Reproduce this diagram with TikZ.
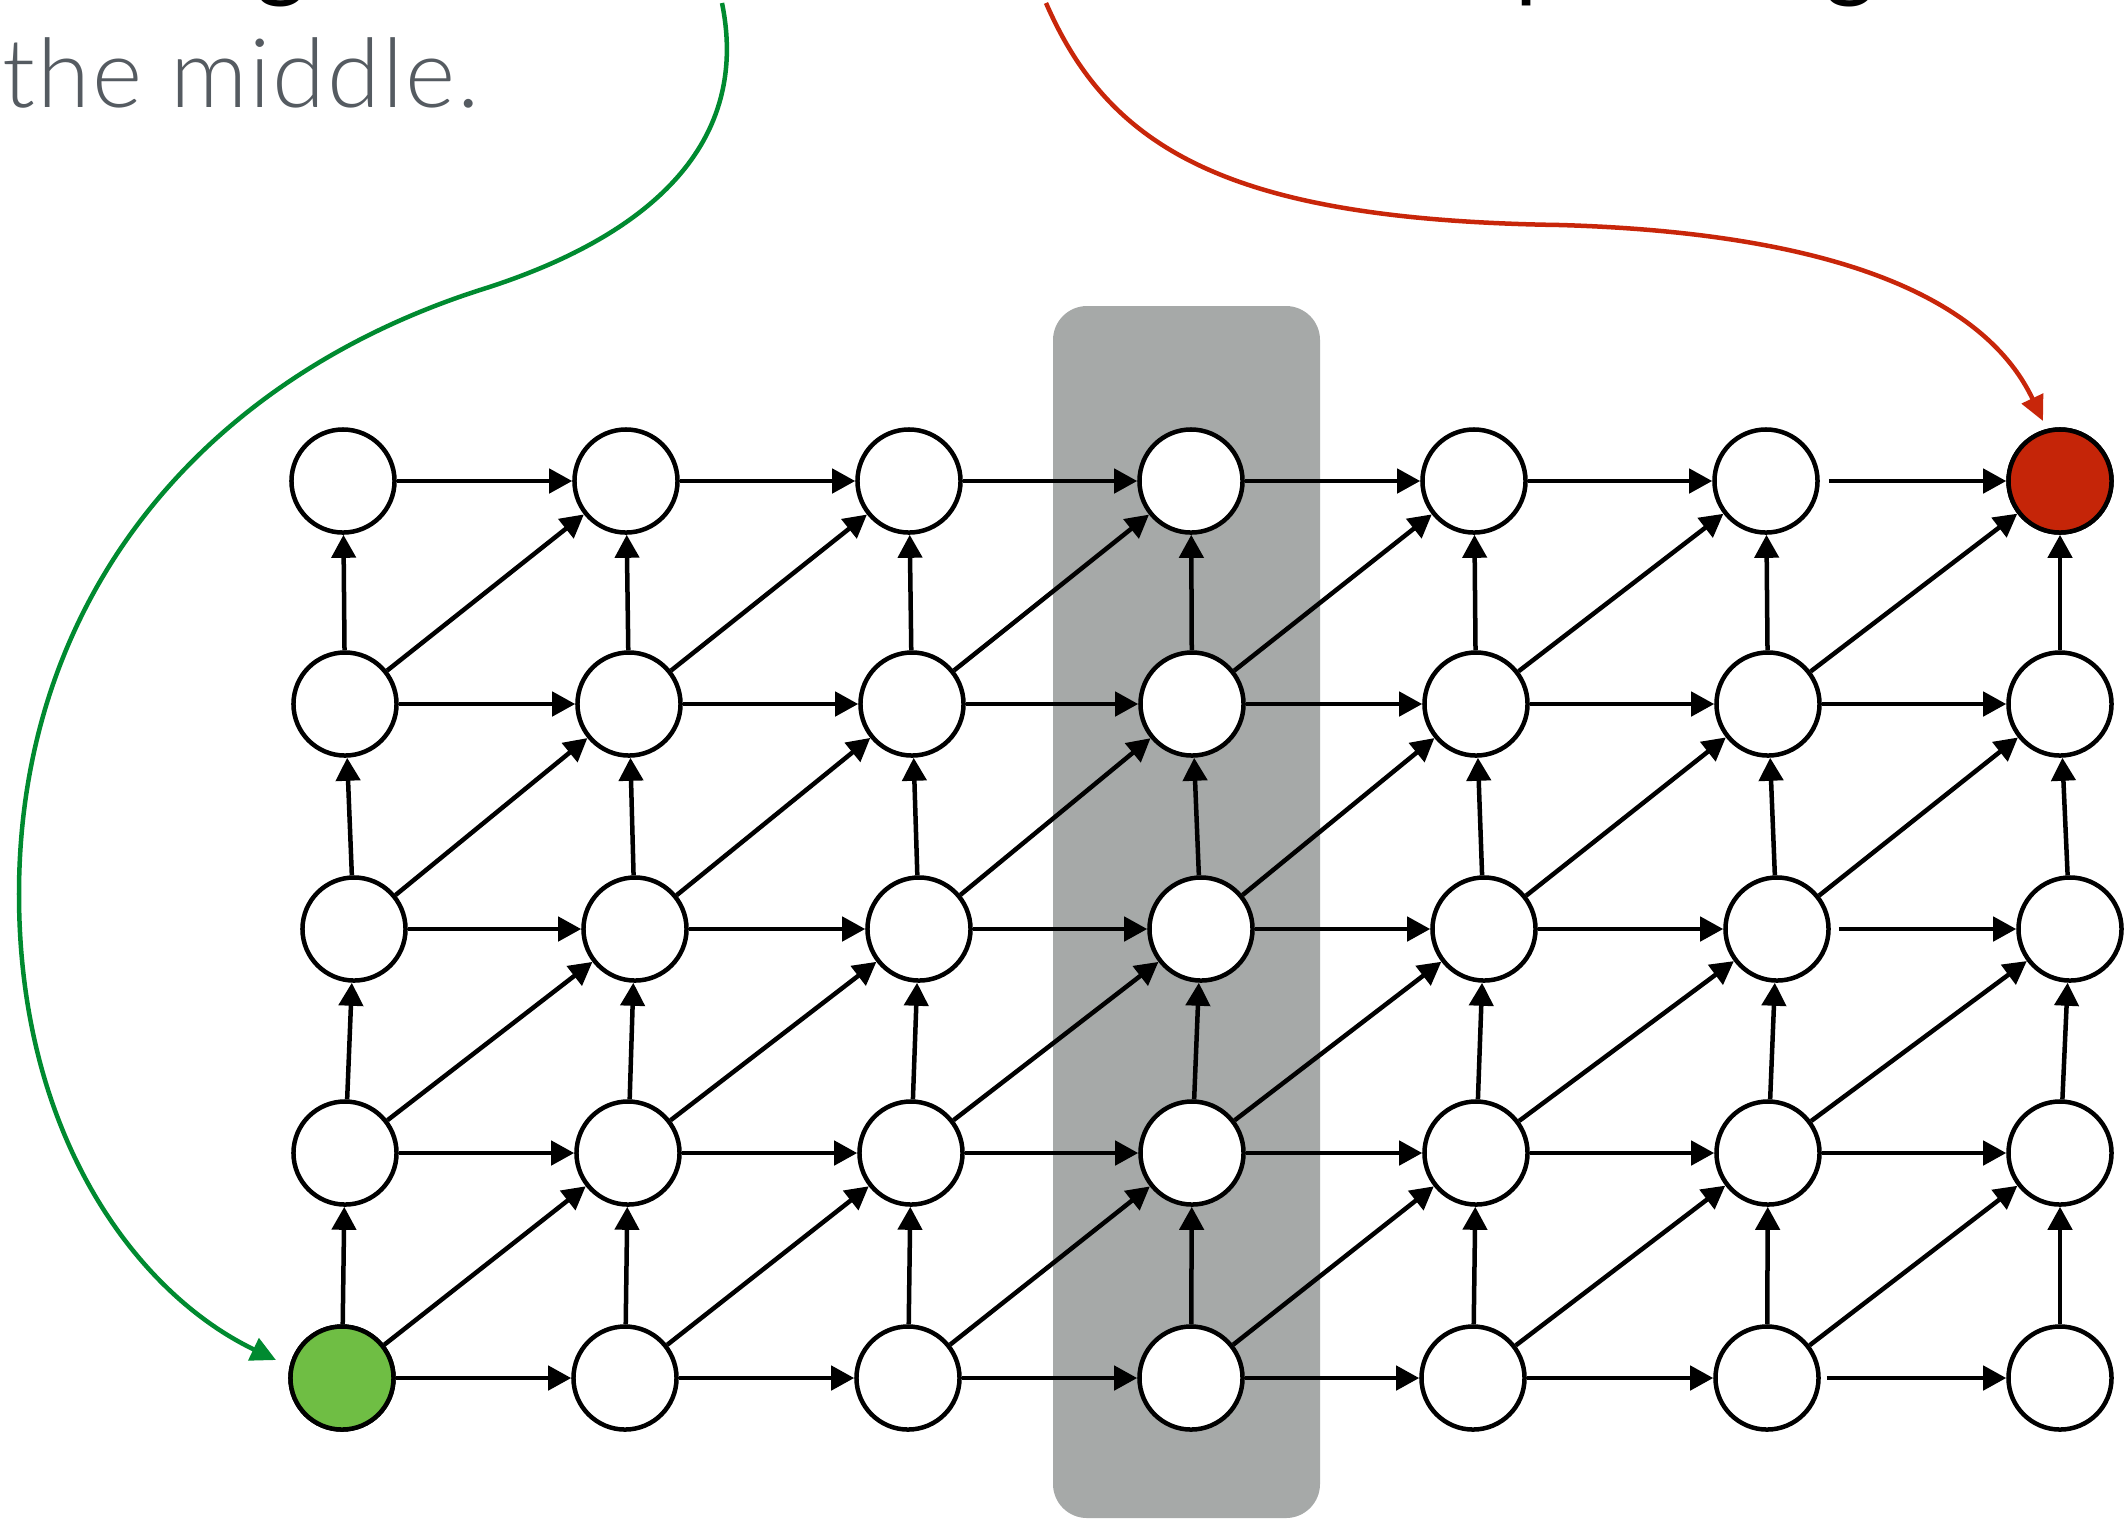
\documentclass[tikz,border=0pt]{standalone}
\usepackage{fontspec}
\setmainfont{Lato}
\newfontfamily\lightfont{Lato Light}[LetterSpace=2]
\usetikzlibrary{arrows.meta}
\definecolor{txtgray}{RGB}{85,91,97}
\definecolor{boxgray}{RGB}{166,169,168}
\definecolor{greenline}{RGB}{0,138,48}
\definecolor{greenfill}{RGB}{111,190,68}
\definecolor{redline}{RGB}{200,38,10}
\definecolor{redfill}{RGB}{197,37,8}
\tikzset{
  vx/.style={circle, draw=black, fill=white, line width=0.045cm, minimum size=1.03cm, inner sep=0pt},
  edge/.style={line width=0.045cm, -{Triangle[length=0.23cm,width=0.24cm]}},
  gedge/.style={draw=greenline, line width=0.045cm, -{Triangle[length=0.25cm,width=0.24cm]}},
  redge/.style={draw=redline, line width=0.045cm, -{Triangle[length=0.25cm,width=0.23cm]}},
  topfont/.style={font=\fontsize{27.3pt}{32pt}\selectfont, inner sep=0pt}
}
\newcommand\myrow[9]{%
  \node[vx] (n#1-0) at (#3,#2) {};
  \node[vx] (n#1-1) at (#4,#2) {};
  \node[vx] (n#1-2) at (#5,#2) {};
  \node[vx] (n#1-3) at (#6,#2) {};
  \node[vx] (n#1-4) at (#7,#2) {};
  \node[vx] (n#1-5) at (#8,#2) {};
  \node[vx] (n#1-6) at (#9,#2) {};
}
\begin{document}
\begin{tikzpicture}[x=0.01cm,y=-0.01cm]
\path[use as bounding box, clip] (0,0) rectangle (2124,1526);
\fill[white] (0,0) rectangle (2124,1526);
% partial glyphs of the line above
\node[topfont, anchor=base west, text=black] (ga) at (256,-11) {g};
\node[topfont, anchor=base west, text=black] (pa) at (1515,-11) {p};
\node[topfont, anchor=base west, text=black] (gb) at (1825,-11) {g};
% text
\node[topfont, anchor=base west, text=txtgray] (txt) at (2,107) {\lightfont the middle.};
% grey column
\fill[boxgray, rounded corners=0.34cm] (1053,306) rectangle (1320,1518);
% grid nodes
\myrow{0}{481}{343}{626}{909}{1191}{1474}{1766}{2060}
\myrow{1}{704}{345}{629}{912}{1192}{1476}{1768}{2060}
\myrow{2}{929}{354}{635}{919}{1201}{1484}{1777}{2070}
\myrow{3}{1153}{345}{628}{911}{1192}{1476}{1768}{2060}
\myrow{4}{1378}{342}{625}{908}{1191}{1473}{1767}{2060}
\node[vx, fill=greenfill] at (n4-0) {};
\node[vx, fill=redfill] at (n0-6) {};
% horizontal edges
\foreach \r in {0,...,4}{
  \foreach \c in {0,...,4}{
    \pgfmathtruncatemacro\cn{\c+1}
    \draw[edge] (n\r-\c) -- (n\r-\cn);
  }
}
\draw[edge, shorten <=0.09cm] (n0-5) -- (n0-6);
\draw[edge] (n1-5) -- (n1-6);
\draw[edge, shorten <=0.08cm] (n2-5) -- (n2-6);
\draw[edge] (n3-5) -- (n3-6);
\draw[edge, shorten <=0.06cm] (n4-5) -- (n4-6);
% vertical and diagonal edges
\foreach \r in {1,...,4}{
  \pgfmathtruncatemacro\ru{\r-1}
  \foreach \c in {0,...,6}{
    \draw[edge] (n\r-\c) -- (n\ru-\c);
  }
  \foreach \c in {0,...,5}{
    \pgfmathtruncatemacro\cn{\c+1}
    \draw[edge] (n\r-\c) -- (n\ru-\cn);
  }
}
% green curve
\coordinate (gs) at (722,3);
\coordinate (ge) at (276,1360);
\draw[gedge] (gs) .. controls (752,150) and (640,240) .. (480,290)
  .. controls (200,380) and (19,600) .. (19,894)
  .. controls (19,1140) and (140,1295) .. (ge);
% red curve
\coordinate (rs) at (1046,3);
\coordinate (re) at (2043,421);
\draw[redge] (rs) .. controls (1110,150) and (1230,220) .. (1560,225)
  .. controls (1900,235) and (2000,330) .. (re);
\end{tikzpicture}
\end{document}
